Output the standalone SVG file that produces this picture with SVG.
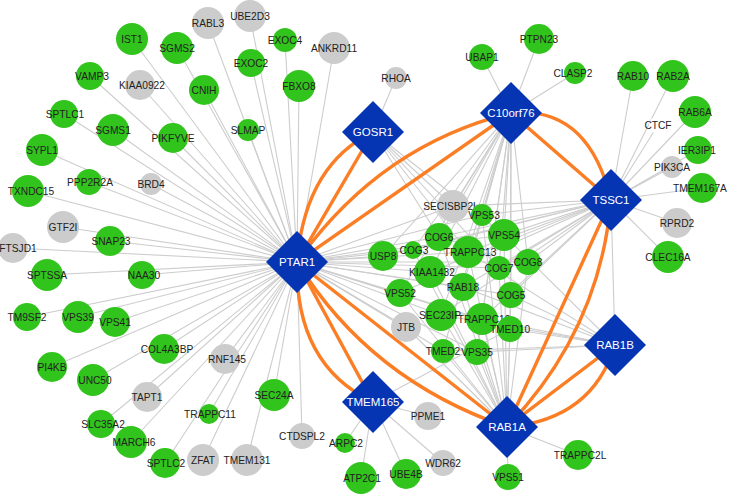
<svg xmlns="http://www.w3.org/2000/svg" width="735" height="495" viewBox="0 0 735 495">
<style>
.e{stroke:#cdcdcd;stroke-width:1.1;fill:none}
.o{stroke:#fb7d24;stroke-width:3.4;fill:none}
.g{fill:#31c41c}
.y{fill:#cccccc}
.h{fill:#0535b3}
.lb{font-family:"Liberation Sans",Arial,sans-serif;font-size:10.2px;fill:#222;text-anchor:middle}
.hl{font-family:"Liberation Sans",Arial,sans-serif;font-size:11.5px;fill:#ffffff;text-anchor:middle}
</style>
<rect width="735" height="495" fill="#ffffff"/>
<g id="connectors">
<g id="gray-edges">
<line class="e" x1="297" y1="262" x2="132" y2="39"/>
<line class="e" x1="297" y1="262" x2="177" y2="48"/>
<line class="e" x1="297" y1="262" x2="208" y2="23"/>
<line class="e" x1="297" y1="262" x2="250" y2="16"/>
<line class="e" x1="297" y1="262" x2="285" y2="40"/>
<line class="e" x1="297" y1="262" x2="251" y2="63"/>
<line class="e" x1="297" y1="262" x2="204" y2="90"/>
<line class="e" x1="297" y1="262" x2="299" y2="86"/>
<line class="e" x1="297" y1="262" x2="334" y2="48"/>
<line class="e" x1="297" y1="262" x2="90" y2="76"/>
<line class="e" x1="297" y1="262" x2="140" y2="85"/>
<line class="e" x1="297" y1="262" x2="64" y2="114"/>
<line class="e" x1="297" y1="262" x2="113" y2="130"/>
<line class="e" x1="297" y1="262" x2="173" y2="138"/>
<line class="e" x1="297" y1="262" x2="248" y2="130"/>
<line class="e" x1="297" y1="262" x2="42" y2="150"/>
<line class="e" x1="297" y1="262" x2="28" y2="191"/>
<line class="e" x1="297" y1="262" x2="89" y2="182"/>
<line class="e" x1="297" y1="262" x2="151" y2="184"/>
<line class="e" x1="297" y1="262" x2="63" y2="227"/>
<line class="e" x1="297" y1="262" x2="13" y2="248"/>
<line class="e" x1="297" y1="262" x2="110" y2="241"/>
<line class="e" x1="297" y1="262" x2="47" y2="275"/>
<line class="e" x1="297" y1="262" x2="142" y2="275"/>
<line class="e" x1="297" y1="262" x2="27" y2="317"/>
<line class="e" x1="297" y1="262" x2="78" y2="317"/>
<line class="e" x1="297" y1="262" x2="115" y2="322"/>
<line class="e" x1="297" y1="262" x2="164" y2="349"/>
<line class="e" x1="297" y1="262" x2="52" y2="367"/>
<line class="e" x1="297" y1="262" x2="93" y2="380"/>
<line class="e" x1="297" y1="262" x2="225" y2="359"/>
<line class="e" x1="297" y1="262" x2="147" y2="397"/>
<line class="e" x1="297" y1="262" x2="209" y2="414"/>
<line class="e" x1="297" y1="262" x2="101" y2="424"/>
<line class="e" x1="297" y1="262" x2="131" y2="442"/>
<line class="e" x1="297" y1="262" x2="165" y2="463"/>
<line class="e" x1="297" y1="262" x2="203" y2="460"/>
<line class="e" x1="297" y1="262" x2="247" y2="460"/>
<line class="e" x1="297" y1="262" x2="274" y2="395"/>
<line class="e" x1="297" y1="262" x2="302" y2="436"/>
<line class="e" x1="373" y1="132" x2="396" y2="78"/>
<line class="e" x1="373" y1="132" x2="453" y2="206"/>
<line class="e" x1="373" y1="132" x2="439" y2="237"/>
<line class="e" x1="373" y1="132" x2="468" y2="252"/>
<line class="e" x1="373" y1="132" x2="504" y2="235"/>
<line class="e" x1="373" y1="132" x2="499" y2="268"/>
<line class="e" x1="511" y1="113" x2="482" y2="57"/>
<line class="e" x1="511" y1="113" x2="539" y2="39"/>
<line class="e" x1="511" y1="113" x2="575" y2="73"/>
<line class="e" x1="611" y1="200" x2="633" y2="76"/>
<line class="e" x1="611" y1="200" x2="673" y2="76"/>
<line class="e" x1="611" y1="200" x2="658" y2="125"/>
<line class="e" x1="611" y1="200" x2="695" y2="112"/>
<line class="e" x1="611" y1="200" x2="698" y2="150"/>
<line class="e" x1="611" y1="200" x2="672" y2="167"/>
<line class="e" x1="611" y1="200" x2="702" y2="188"/>
<line class="e" x1="611" y1="200" x2="677" y2="223"/>
<line class="e" x1="611" y1="200" x2="668" y2="257"/>
<line class="e" x1="611" y1="200" x2="615" y2="345"/>
<line class="e" x1="507" y1="427" x2="578" y2="455"/>
<line class="e" x1="507" y1="427" x2="508" y2="477"/>
<line class="e" x1="373" y1="402" x2="345" y2="443"/>
<line class="e" x1="373" y1="402" x2="361" y2="478"/>
<line class="e" x1="373" y1="402" x2="406" y2="474"/>
<line class="e" x1="373" y1="402" x2="428" y2="416"/>
<line class="e" x1="373" y1="402" x2="443" y2="463"/>
<line class="e" x1="373" y1="402" x2="510" y2="329"/>
<line class="e" x1="297" y1="262" x2="453" y2="206"/>
<line class="e" x1="511" y1="113" x2="453" y2="206"/>
<line class="e" x1="611" y1="200" x2="453" y2="206"/>
<line class="e" x1="297" y1="262" x2="482" y2="215"/>
<line class="e" x1="511" y1="113" x2="482" y2="215"/>
<line class="e" x1="611" y1="200" x2="482" y2="215"/>
<line class="e" x1="507" y1="427" x2="482" y2="215"/>
<line class="e" x1="297" y1="262" x2="504" y2="235"/>
<line class="e" x1="511" y1="113" x2="504" y2="235"/>
<line class="e" x1="611" y1="200" x2="504" y2="235"/>
<line class="e" x1="507" y1="427" x2="504" y2="235"/>
<line class="e" x1="615" y1="345" x2="504" y2="235"/>
<line class="e" x1="297" y1="262" x2="439" y2="237"/>
<line class="e" x1="511" y1="113" x2="439" y2="237"/>
<line class="e" x1="611" y1="200" x2="439" y2="237"/>
<line class="e" x1="507" y1="427" x2="439" y2="237"/>
<line class="e" x1="297" y1="262" x2="413" y2="250"/>
<line class="e" x1="511" y1="113" x2="413" y2="250"/>
<line class="e" x1="611" y1="200" x2="413" y2="250"/>
<line class="e" x1="507" y1="427" x2="413" y2="250"/>
<line class="e" x1="297" y1="262" x2="383" y2="256"/>
<line class="e" x1="511" y1="113" x2="383" y2="256"/>
<line class="e" x1="611" y1="200" x2="383" y2="256"/>
<line class="e" x1="297" y1="262" x2="468" y2="252"/>
<line class="e" x1="511" y1="113" x2="468" y2="252"/>
<line class="e" x1="611" y1="200" x2="468" y2="252"/>
<line class="e" x1="507" y1="427" x2="468" y2="252"/>
<line class="e" x1="615" y1="345" x2="468" y2="252"/>
<line class="e" x1="297" y1="262" x2="528" y2="262"/>
<line class="e" x1="511" y1="113" x2="528" y2="262"/>
<line class="e" x1="611" y1="200" x2="528" y2="262"/>
<line class="e" x1="507" y1="427" x2="528" y2="262"/>
<line class="e" x1="297" y1="262" x2="430" y2="272"/>
<line class="e" x1="511" y1="113" x2="430" y2="272"/>
<line class="e" x1="611" y1="200" x2="430" y2="272"/>
<line class="e" x1="507" y1="427" x2="430" y2="272"/>
<line class="e" x1="297" y1="262" x2="499" y2="268"/>
<line class="e" x1="511" y1="113" x2="499" y2="268"/>
<line class="e" x1="611" y1="200" x2="499" y2="268"/>
<line class="e" x1="507" y1="427" x2="499" y2="268"/>
<line class="e" x1="297" y1="262" x2="463" y2="287"/>
<line class="e" x1="511" y1="113" x2="463" y2="287"/>
<line class="e" x1="611" y1="200" x2="463" y2="287"/>
<line class="e" x1="507" y1="427" x2="463" y2="287"/>
<line class="e" x1="615" y1="345" x2="463" y2="287"/>
<line class="e" x1="297" y1="262" x2="400" y2="293"/>
<line class="e" x1="511" y1="113" x2="400" y2="293"/>
<line class="e" x1="611" y1="200" x2="400" y2="293"/>
<line class="e" x1="507" y1="427" x2="400" y2="293"/>
<line class="e" x1="297" y1="262" x2="511" y2="295"/>
<line class="e" x1="511" y1="113" x2="511" y2="295"/>
<line class="e" x1="611" y1="200" x2="511" y2="295"/>
<line class="e" x1="507" y1="427" x2="511" y2="295"/>
<line class="e" x1="615" y1="345" x2="511" y2="295"/>
<line class="e" x1="297" y1="262" x2="441" y2="315"/>
<line class="e" x1="511" y1="113" x2="441" y2="315"/>
<line class="e" x1="611" y1="200" x2="441" y2="315"/>
<line class="e" x1="507" y1="427" x2="441" y2="315"/>
<line class="e" x1="615" y1="345" x2="441" y2="315"/>
<line class="e" x1="297" y1="262" x2="482" y2="319"/>
<line class="e" x1="511" y1="113" x2="482" y2="319"/>
<line class="e" x1="611" y1="200" x2="482" y2="319"/>
<line class="e" x1="507" y1="427" x2="482" y2="319"/>
<line class="e" x1="615" y1="345" x2="482" y2="319"/>
<line class="e" x1="297" y1="262" x2="510" y2="329"/>
<line class="e" x1="511" y1="113" x2="510" y2="329"/>
<line class="e" x1="507" y1="427" x2="510" y2="329"/>
<line class="e" x1="615" y1="345" x2="510" y2="329"/>
<line class="e" x1="297" y1="262" x2="406" y2="327"/>
<line class="e" x1="507" y1="427" x2="406" y2="327"/>
<line class="e" x1="297" y1="262" x2="443" y2="351"/>
<line class="e" x1="511" y1="113" x2="443" y2="351"/>
<line class="e" x1="507" y1="427" x2="443" y2="351"/>
<line class="e" x1="615" y1="345" x2="443" y2="351"/>
<line class="e" x1="297" y1="262" x2="477" y2="352"/>
<line class="e" x1="511" y1="113" x2="477" y2="352"/>
<line class="e" x1="507" y1="427" x2="477" y2="352"/>
<line class="e" x1="615" y1="345" x2="477" y2="352"/>
</g>
<g id="orange-edges">
<path class="o" d="M297,262 Q305,165 373,132"/>
<path class="o" d="M297,262 L373,132"/>
<path class="o" d="M297,262 Q380,145 511,113"/>
<path class="o" d="M297,262 L511,113"/>
<path class="o" d="M297,262 Q295,365 373,402"/>
<path class="o" d="M297,262 L373,402"/>
<path class="o" d="M297,262 Q370,380 507,427"/>
<path class="o" d="M297,262 L507,427"/>
<path class="o" d="M511,113 Q588,105 611,200"/>
<path class="o" d="M511,113 L611,200"/>
<path class="o" d="M611,200 Q600,330 507,427"/>
<path class="o" d="M611,200 L507,427"/>
<path class="o" d="M615,345 Q592,420 507,427"/>
<path class="o" d="M615,345 L507,427"/>
</g>
</g>
<g id="IST1"><circle class="g" cx="132" cy="39" r="16"/><text class="lb" x="132" y="43">IST1</text></g>
<g id="SGMS2"><circle class="g" cx="177" cy="48" r="16"/><text class="lb" x="177" y="52">SGMS2</text></g>
<g id="RABL3"><circle class="y" cx="208" cy="23" r="16"/><text class="lb" x="208" y="27">RABL3</text></g>
<g id="UBE2D3"><circle class="y" cx="250" cy="16" r="16"/><text class="lb" x="250" y="20">UBE2D3</text></g>
<g id="EXOC4"><circle class="g" cx="285" cy="40" r="12"/><text class="lb" x="285" y="44">EXOC4</text></g>
<g id="EXOC2"><circle class="g" cx="251" cy="63" r="14"/><text class="lb" x="251" y="67">EXOC2</text></g>
<g id="CNIH"><circle class="g" cx="204" cy="90" r="15"/><text class="lb" x="204" y="94">CNIH</text></g>
<g id="FBXO8"><circle class="g" cx="299" cy="86" r="16"/><text class="lb" x="299" y="90">FBXO8</text></g>
<g id="ANKRD11"><circle class="y" cx="334" cy="48" r="16"/><text class="lb" x="334" y="52">ANKRD11</text></g>
<g id="RHOA"><circle class="y" cx="396" cy="78" r="11"/><text class="lb" x="396" y="82">RHOA</text></g>
<g id="VAMP3"><circle class="g" cx="90" cy="76" r="14"/><text class="lb" x="92" y="80">VAMP3</text></g>
<g id="KIAA0922"><circle class="y" cx="140" cy="85" r="15"/><text class="lb" x="142" y="89">KIAA0922</text></g>
<g id="SPTLC1"><circle class="g" cx="64" cy="114" r="14"/><text class="lb" x="65" y="118">SPTLC1</text></g>
<g id="SGMS1"><circle class="g" cx="113" cy="130" r="16"/><text class="lb" x="113" y="134">SGMS1</text></g>
<g id="PIKFYVE"><circle class="g" cx="173" cy="138" r="15"/><text class="lb" x="173" y="142">PIKFYVE</text></g>
<g id="SLMAP"><circle class="g" cx="248" cy="130" r="11"/><text class="lb" x="248" y="134">SLMAP</text></g>
<g id="SYPL1"><circle class="g" cx="42" cy="150" r="16"/><text class="lb" x="42" y="154">SYPL1</text></g>
<g id="TXNDC15"><circle class="g" cx="28" cy="191" r="16"/><text class="lb" x="31" y="195">TXNDC15</text></g>
<g id="PPP2R2A"><circle class="g" cx="89" cy="182" r="13"/><text class="lb" x="90" y="186">PPP2R2A</text></g>
<g id="BRD4"><circle class="y" cx="151" cy="184" r="11"/><text class="lb" x="151" y="188">BRD4</text></g>
<g id="GTF2I"><circle class="y" cx="63" cy="227" r="16"/><text class="lb" x="63" y="231">GTF2I</text></g>
<g id="FTSJD1"><circle class="y" cx="13" cy="248" r="15"/><text class="lb" x="18" y="252">FTSJD1</text></g>
<g id="SNAP23"><circle class="g" cx="110" cy="241" r="15"/><text class="lb" x="111" y="245">SNAP23</text></g>
<g id="SPTSSA"><circle class="g" cx="47" cy="275" r="16"/><text class="lb" x="47" y="279">SPTSSA</text></g>
<g id="NAA30"><circle class="g" cx="142" cy="275" r="14"/><text class="lb" x="144" y="279">NAA30</text></g>
<g id="TM9SF2"><circle class="g" cx="27" cy="317" r="14"/><text class="lb" x="27" y="321">TM9SF2</text></g>
<g id="VPS39"><circle class="g" cx="78" cy="317" r="16"/><text class="lb" x="78" y="321">VPS39</text></g>
<g id="VPS41"><circle class="g" cx="115" cy="322" r="15"/><text class="lb" x="115" y="326">VPS41</text></g>
<g id="COL4A3BP"><circle class="g" cx="164" cy="349" r="15"/><text class="lb" x="167" y="353">COL4A3BP</text></g>
<g id="PI4KB"><circle class="g" cx="52" cy="367" r="15"/><text class="lb" x="52" y="371">PI4KB</text></g>
<g id="UNC50"><circle class="g" cx="93" cy="380" r="16"/><text class="lb" x="95" y="384">UNC50</text></g>
<g id="RNF145"><circle class="y" cx="225" cy="359" r="15"/><text class="lb" x="227" y="363">RNF145</text></g>
<g id="TAPT1"><circle class="y" cx="147" cy="397" r="15"/><text class="lb" x="147" y="401">TAPT1</text></g>
<g id="TRAPPC11"><circle class="g" cx="209" cy="414" r="10"/><text class="lb" x="210" y="418">TRAPPC11</text></g>
<g id="SLC35A2"><circle class="g" cx="101" cy="424" r="14"/><text class="lb" x="103" y="428">SLC35A2</text></g>
<g id="MARCH6"><circle class="g" cx="131" cy="442" r="16"/><text class="lb" x="134" y="446">MARCH6</text></g>
<g id="SPTLC2"><circle class="g" cx="165" cy="463" r="15"/><text class="lb" x="166" y="467">SPTLC2</text></g>
<g id="ZFAT"><circle class="y" cx="203" cy="460" r="16"/><text class="lb" x="203" y="464">ZFAT</text></g>
<g id="TMEM131"><circle class="y" cx="247" cy="460" r="16"/><text class="lb" x="247" y="464">TMEM131</text></g>
<g id="SEC24A"><circle class="g" cx="274" cy="395" r="16"/><text class="lb" x="274" y="399">SEC24A</text></g>
<g id="CTDSPL2"><circle class="y" cx="302" cy="436" r="13"/><text class="lb" x="302" y="440">CTDSPL2</text></g>
<g id="ARPC2"><circle class="g" cx="345" cy="443" r="10"/><text class="lb" x="346" y="447">ARPC2</text></g>
<g id="ATP2C1"><circle class="g" cx="361" cy="478" r="16"/><text class="lb" x="362" y="482">ATP2C1</text></g>
<g id="UBE4B"><circle class="g" cx="406" cy="474" r="15"/><text class="lb" x="406" y="478">UBE4B</text></g>
<g id="PPME1"><circle class="y" cx="428" cy="416" r="14"/><text class="lb" x="428" y="420">PPME1</text></g>
<g id="WDR62"><circle class="y" cx="443" cy="463" r="13"/><text class="lb" x="443" y="467">WDR62</text></g>
<g id="UBAP1"><circle class="g" cx="482" cy="57" r="13"/><text class="lb" x="482" y="61">UBAP1</text></g>
<g id="PTPN23"><circle class="g" cx="539" cy="39" r="15"/><text class="lb" x="539" y="43">PTPN23</text></g>
<g id="CLASP2"><circle class="g" cx="575" cy="73" r="11"/><text class="lb" x="573" y="77">CLASP2</text></g>
<g id="RAB10"><circle class="g" cx="633" cy="76" r="15"/><text class="lb" x="633" y="80">RAB10</text></g>
<g id="RAB2A"><circle class="g" cx="673" cy="76" r="16"/><text class="lb" x="673" y="80">RAB2A</text></g>
<g id="RAB6A"><circle class="g" cx="695" cy="112" r="16"/><text class="lb" x="695" y="116">RAB6A</text></g>
<g id="CTCF"><circle fill="#ffffff" cx="658" cy="125" r="9"/><text class="lb" x="658" y="129">CTCF</text></g>
<g id="IER3IP1"><circle class="g" cx="698" cy="150" r="14"/><text class="lb" x="697" y="154">IER3IP1</text></g>
<g id="PIK3CA"><circle class="y" cx="672" cy="167" r="11"/><text class="lb" x="672" y="171">PIK3CA</text></g>
<g id="TMEM167A"><circle class="g" cx="702" cy="188" r="15"/><text class="lb" x="700" y="192">TMEM167A</text></g>
<g id="RPRD2"><circle class="y" cx="677" cy="223" r="15"/><text class="lb" x="677" y="227">RPRD2</text></g>
<g id="CLEC16A"><circle class="g" cx="668" cy="257" r="16"/><text class="lb" x="668" y="261">CLEC16A</text></g>
<g id="TRAPPC2L"><circle class="g" cx="578" cy="455" r="15"/><text class="lb" x="580" y="459">TRAPPC2L</text></g>
<g id="VPS51"><circle class="g" cx="508" cy="477" r="13"/><text class="lb" x="508" y="481">VPS51</text></g>
<g id="SECISBP2L"><circle class="y" cx="453" cy="206" r="16"/><text class="lb" x="451" y="210">SECISBP2L</text></g>
<g id="VPS53"><circle class="g" cx="482" cy="215" r="11"/><text class="lb" x="484" y="219">VPS53</text></g>
<g id="VPS54"><circle class="g" cx="504" cy="235" r="16"/><text class="lb" x="504" y="239">VPS54</text></g>
<g id="COG6"><circle class="g" cx="439" cy="237" r="14"/><text class="lb" x="439" y="241">COG6</text></g>
<g id="COG3"><circle class="g" cx="413" cy="250" r="9"/><text class="lb" x="414" y="254">COG3</text></g>
<g id="USP8"><circle class="g" cx="383" cy="256" r="15"/><text class="lb" x="383" y="260">USP8</text></g>
<g id="TRAPPC13"><circle class="g" cx="468" cy="252" r="16"/><text class="lb" x="470" y="256">TRAPPC13</text></g>
<g id="COG8"><circle class="g" cx="528" cy="262" r="13"/><text class="lb" x="528" y="266">COG8</text></g>
<g id="KIAA1432"><circle class="g" cx="430" cy="272" r="16"/><text class="lb" x="432" y="276">KIAA1432</text></g>
<g id="COG7"><circle class="g" cx="499" cy="268" r="12"/><text class="lb" x="499" y="272">COG7</text></g>
<g id="RAB18"><circle class="g" cx="463" cy="287" r="14"/><text class="lb" x="463" y="291">RAB18</text></g>
<g id="VPS52"><circle class="g" cx="400" cy="293" r="14"/><text class="lb" x="400" y="297">VPS52</text></g>
<g id="COG5"><circle class="g" cx="511" cy="295" r="13"/><text class="lb" x="511" y="299">COG5</text></g>
<g id="SEC23IP"><circle class="g" cx="441" cy="315" r="16"/><text class="lb" x="440" y="319">SEC23IP</text></g>
<g id="TRAPPC12"><circle class="g" cx="482" cy="319" r="16"/><text class="lb" x="484" y="323">TRAPPC12</text></g>
<g id="TMED10"><circle class="g" cx="510" cy="329" r="13"/><text class="lb" x="510" y="333">TMED10</text></g>
<g id="JTB"><circle class="y" cx="406" cy="327" r="15"/><text class="lb" x="406" y="331">JTB</text></g>
<g id="TMED2"><circle class="g" cx="443" cy="351" r="12"/><text class="lb" x="443" y="355">TMED2</text></g>
<g id="VPS35"><circle class="g" cx="477" cy="352" r="13"/><text class="lb" x="477" y="356">VPS35</text></g>
<g id="PTAR1"><polygon class="h" points="297,231 328,262 297,293 266,262"/><text class="hl" x="297" y="266">PTAR1</text></g>
<g id="GOSR1"><polygon class="h" points="373,101 404,132 373,163 342,132"/><text class="hl" x="373" y="136">GOSR1</text></g>
<g id="C10orf76"><polygon class="h" points="511,82 542,113 511,144 480,113"/><text class="hl" x="511" y="117">C10orf76</text></g>
<g id="TSSC1"><polygon class="h" points="611,169 642,200 611,231 580,200"/><text class="hl" x="611" y="204">TSSC1</text></g>
<g id="RAB1B"><polygon class="h" points="615,314 646,345 615,376 584,345"/><text class="hl" x="615" y="349">RAB1B</text></g>
<g id="RAB1A"><polygon class="h" points="507,396 538,427 507,458 476,427"/><text class="hl" x="507" y="431">RAB1A</text></g>
<g id="TMEM165"><polygon class="h" points="373,371 404,402 373,433 342,402"/><text class="hl" x="373" y="406">TMEM165</text></g>
</svg>
